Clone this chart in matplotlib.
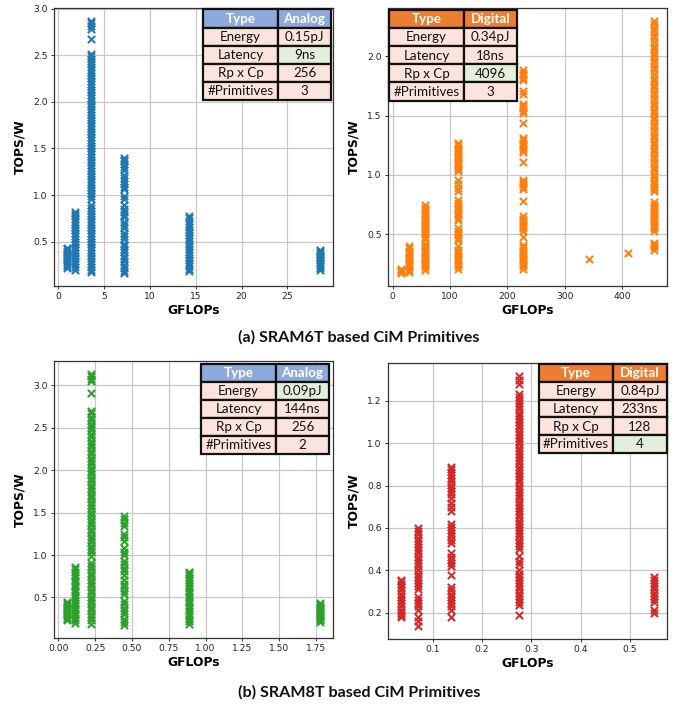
import matplotlib
matplotlib.use("Agg")
import matplotlib.pyplot as plt
from matplotlib.patches import Rectangle

# ---------------- data ----------------
# (a) SRAM6T Analog
x_6t_analog = [0.894, 1.79, 3.58, 7.15, 14.3, 28.6]
y_6t_analog = [
    [0.22, 0.24, 0.26, 0.28, 0.30, 0.32, 0.34, 0.36, 0.38, 0.40, 0.42, 0.43],
    [0.20, 0.23, 0.26, 0.29, 0.32, 0.35, 0.38, 0.41, 0.44, 0.47, 0.50, 0.53, 0.56, 0.59,
     0.62, 0.65, 0.68, 0.71, 0.74, 0.77, 0.80, 0.82],
    [0.17, 0.20, 0.23, 0.26, 0.29, 0.32, 0.35, 0.38, 0.41, 0.44, 0.47, 0.50, 0.53, 0.56,
     0.59, 0.62, 0.65, 0.68, 0.71, 0.74, 0.77, 0.80, 0.83, 0.86, 0.89, 0.96, 0.99, 1.02,
     1.05, 1.08, 1.11, 1.14, 1.17, 1.20, 1.23, 1.26, 1.29, 1.32, 1.35, 1.38, 1.41, 1.44,
     1.47, 1.50, 1.53, 1.56, 1.59, 1.62, 1.65, 1.68, 1.71, 1.74, 1.77, 1.80, 1.83, 1.86,
     1.89, 1.92, 1.95, 1.98, 2.01, 2.04, 2.07, 2.10, 2.13, 2.16, 2.19, 2.22, 2.25, 2.28,
     2.31, 2.34, 2.37, 2.40, 2.43, 2.46, 2.49, 2.51, 2.67, 2.78, 2.81, 2.84, 2.87],
    [0.16, 0.19, 0.22, 0.25, 0.29, 0.32, 0.35, 0.39, 0.42, 0.45, 0.48, 0.53, 0.56, 0.59,
     0.65, 0.68, 0.71, 0.76, 0.79, 0.82, 0.85, 0.89, 0.96, 0.99, 1.06, 1.09, 1.12, 1.15,
     1.18, 1.21, 1.27, 1.30, 1.33, 1.36, 1.38, 1.40],
    [0.18, 0.21, 0.24, 0.27, 0.30, 0.33, 0.36, 0.39, 0.42, 0.45, 0.48, 0.51, 0.54, 0.57,
     0.60, 0.63, 0.66, 0.69, 0.72, 0.75, 0.78],
    [0.20, 0.22, 0.24, 0.26, 0.28, 0.30, 0.32, 0.34, 0.36, 0.38, 0.40, 0.41],
]

# (a) SRAM6T Digital
x_6t_digital = [14.25, 28.5, 57, 114, 228, 342, 410, 456]
y_6t_digital = [
    [0.17, 0.18, 0.19, 0.20, 0.21],
    [0.18, 0.20, 0.22, 0.24, 0.26, 0.28, 0.30, 0.32, 0.34, 0.36, 0.38, 0.40],
    [0.20, 0.22, 0.24, 0.26, 0.28, 0.30, 0.32, 0.34, 0.36, 0.38, 0.40, 0.42, 0.46, 0.48,
     0.50, 0.52, 0.54, 0.56, 0.58, 0.60, 0.62, 0.64, 0.66, 0.68, 0.70, 0.72, 0.75],
    [0.21, 0.23, 0.25, 0.27, 0.29, 0.31, 0.33, 0.35, 0.37, 0.40, 0.45, 0.47, 0.49, 0.51,
     0.53, 0.55, 0.62, 0.64, 0.66, 0.68, 0.70, 0.72, 0.74, 0.76, 0.79, 0.86, 0.89, 0.92,
     0.96, 1.03, 1.05, 1.07, 1.09, 1.11, 1.13, 1.15, 1.17, 1.19, 1.21, 1.23, 1.25, 1.27],
    [0.21, 0.23, 0.25, 0.27, 0.29, 0.31, 0.33, 0.35, 0.37, 0.39, 0.41, 0.48, 0.53, 0.55,
     0.57, 0.59, 0.61, 0.63, 0.65, 0.78, 0.88, 0.90, 0.92, 0.94, 0.96, 1.11, 1.19, 1.21,
     1.23, 1.25, 1.27, 1.29, 1.31, 1.44, 1.52, 1.54, 1.56, 1.58, 1.60, 1.68, 1.71, 1.80,
     1.82, 1.84, 1.86, 1.88],
    [0.29],
    [0.34],
    [0.37, 0.39, 0.41, 0.43, 0.53, 0.55, 0.57, 0.59, 0.61, 0.63, 0.65, 0.67, 0.69, 0.71,
     0.73, 0.75, 0.77, 0.86, 0.88, 0.90, 0.92, 0.95, 0.98, 1.01, 1.04, 1.07, 1.10, 1.13,
     1.16, 1.19, 1.22, 1.25, 1.28, 1.31, 1.34, 1.37, 1.40, 1.43, 1.46, 1.49, 1.52, 1.55,
     1.58, 1.61, 1.64, 1.67, 1.70, 1.73, 1.76, 1.79, 1.82, 1.85, 1.88, 1.91, 1.94, 1.97,
     2.00, 2.03, 2.06, 2.09, 2.12, 2.15, 2.18, 2.21, 2.24, 2.27, 2.30],
]

# (b) SRAM8T Analog
x_8t_analog = [0.056, 0.111, 0.222, 0.445, 0.89, 1.78]
y_8t_analog = [
    [0.23, 0.25, 0.27, 0.29, 0.31, 0.33, 0.35, 0.37, 0.39, 0.41, 0.43, 0.45],
    [0.20, 0.23, 0.26, 0.29, 0.32, 0.35, 0.38, 0.41, 0.44, 0.47, 0.50, 0.53, 0.56, 0.59,
     0.62, 0.65, 0.68, 0.71, 0.74, 0.77, 0.80, 0.83, 0.86],
    [0.19, 0.23, 0.27, 0.31, 0.35, 0.39, 0.43, 0.47, 0.51, 0.55, 0.59, 0.63, 0.67, 0.71,
     0.75, 0.79, 0.83, 0.87, 0.91, 0.99, 1.03, 1.07, 1.11, 1.15, 1.19, 1.23, 1.27, 1.31,
     1.35, 1.39, 1.43, 1.47, 1.51, 1.55, 1.59, 1.63, 1.67, 1.71, 1.75, 1.79, 1.83, 1.87,
     1.91, 1.95, 1.99, 2.03, 2.07, 2.11, 2.15, 2.19, 2.23, 2.27, 2.31, 2.35, 2.39, 2.43,
     2.47, 2.51, 2.55, 2.59, 2.63, 2.67, 2.70, 2.91, 3.05, 3.08, 3.11, 3.14],
    [0.17, 0.21, 0.24, 0.30, 0.34, 0.38, 0.42, 0.46, 0.54, 0.58, 0.62, 0.66, 0.70, 0.77,
     0.81, 0.85, 0.89, 0.93, 1.00, 1.04, 1.08, 1.17, 1.21, 1.25, 1.34, 1.38, 1.42, 1.46],
    [0.19, 0.22, 0.25, 0.28, 0.31, 0.34, 0.37, 0.40, 0.43, 0.46, 0.49, 0.52, 0.55, 0.58,
     0.61, 0.64, 0.67, 0.70, 0.73, 0.76, 0.79, 0.80],
    [0.21, 0.23, 0.25, 0.27, 0.29, 0.31, 0.33, 0.35, 0.37, 0.39, 0.41, 0.43],
]

# (b) SRAM8T Digital
x_8t_digital = [0.0344, 0.0688, 0.1375, 0.275, 0.55]
y_8t_digital = [
    [0.18, 0.19, 0.20, 0.215, 0.23, 0.245, 0.26, 0.275, 0.29, 0.305, 0.32, 0.335, 0.35, 0.355],
    [0.135, 0.16, 0.18, 0.215, 0.23, 0.245, 0.26, 0.275, 0.31, 0.325, 0.34, 0.355, 0.37,
     0.385, 0.40, 0.42, 0.435, 0.45, 0.465, 0.48, 0.495, 0.51, 0.525, 0.54, 0.555, 0.57,
     0.585, 0.60],
    [0.18, 0.215, 0.23, 0.245, 0.26, 0.275, 0.29, 0.305, 0.32, 0.38, 0.42, 0.435, 0.45,
     0.465, 0.48, 0.53, 0.545, 0.56, 0.575, 0.59, 0.605, 0.62, 0.68, 0.70, 0.72, 0.74,
     0.76, 0.775, 0.79, 0.805, 0.82, 0.835, 0.85, 0.865, 0.88, 0.89],
    [0.19, 0.235, 0.25, 0.265, 0.28, 0.295, 0.31, 0.325, 0.34, 0.355, 0.37, 0.385, 0.40,
     0.43, 0.445, 0.47, 0.50, 0.515, 0.53, 0.545, 0.56, 0.575, 0.59, 0.605, 0.62, 0.635,
     0.65, 0.665, 0.68, 0.695, 0.71, 0.725, 0.74, 0.755, 0.77, 0.785, 0.80, 0.815, 0.83,
     0.845, 0.86, 0.875, 0.89, 0.905, 0.92, 0.935, 0.95, 0.965, 0.98, 0.995, 1.01, 1.025,
     1.04, 1.055, 1.07, 1.085, 1.10, 1.115, 1.13, 1.145, 1.16, 1.175, 1.19, 1.205, 1.22,
     1.235, 1.28, 1.30, 1.32],
    [0.20, 0.215, 0.25, 0.265, 0.28, 0.295, 0.31, 0.325, 0.34, 0.355, 0.37],
]

# tables
table_rows = ["Type", "Energy", "Latency", "Rp x Cp", "#Primitives"]
table_6t_analog = ["Analog", "0.15pJ", "9ns", "256", "3"]
table_6t_digital = ["Digital", "0.34pJ", "18ns", "4096", "3"]
table_8t_analog = ["Analog", "0.09pJ", "144ns", "256", "2"]
table_8t_digital = ["Digital", "0.84pJ", "233ns", "128", "4"]
highlight_6t_analog = "Latency"
highlight_6t_digital = "Rp x Cp"
highlight_8t_analog = "Energy"
highlight_8t_digital = "#Primitives"

captions = ["(a) SRAM6T based CiM Primitives", "(b) SRAM8T based CiM Primitives"]

# ---------------- figure ----------------
W, H = 683, 704
fig = plt.figure(figsize=(W / 100, H / 100), dpi=100)


def px_axes(l, r, t, b):
    return fig.add_axes([l / W, 1 - b / H, (r - l) / W, (b - t) / H])


def fx(x):
    return x / W


def fy(y):
    return 1 - y / H


C_ANALOG_HDR = "#8EA9DB"
C_DIGITAL_HDR = "#ED7D31"
C_CELL = "#FCE4DC"
C_GREEN = "#E2EFDA"
TABLE_FONT = "Lato"


def draw_table(l, r, t, b, split, values, hdr_color, highlight):
    n = len(table_rows)
    rh = (b - t) / n
    for i, (name, val) in enumerate(zip(table_rows, values)):
        top = t + i * rh
        for (cl, cr, txt, is_val) in [(l, split, name, False), (split, r, val, True)]:
            if i == 0:
                fc = hdr_color
            elif is_val and name == highlight:
                fc = C_GREEN
            else:
                fc = C_CELL
            rect = Rectangle((fx(cl), fy(top + rh)), (cr - cl) / W, rh / H,
                             transform=fig.transFigure, facecolor=fc,
                             edgecolor="#111111", linewidth=1.6, zorder=10)
            fig.add_artist(rect)
            fig.text(fx((cl + cr) / 2), fy(top + rh / 2 + 0.3), txt,
                     ha="center", va="center", fontsize=9.6,
                     family=TABLE_FONT,
                     fontweight="bold" if i == 0 else "normal",
                     color="white" if i == 0 else "#111111", zorder=11)


def style_axes(ax):
    ax.set_axisbelow(True)
    ax.grid(True, color="#c8c8c8", linewidth=0.9)
    ax.tick_params(labelsize=6.6, length=2.5, width=0.7, colors="#333333",
                   labelcolor="#222222", pad=2)
    for s in ax.spines.values():
        s.set_color("#333333")
        s.set_linewidth(0.9)
    ax.set_xlabel("GFLOPs", fontsize=8.8, fontweight="bold", labelpad=2)
    ax.set_ylabel("TOPS/W", fontsize=8.8, fontweight="bold", labelpad=5)


def scatter_columns(ax, xs, ys, color):
    for xv, col in zip(xs, ys):
        ax.scatter([xv] * len(col), col, marker="x", s=27, linewidths=1.45, color=color)


# (a) left
ax1 = px_axes(54, 333, 8, 286)
scatter_columns(ax1, x_6t_analog, y_6t_analog, "#1f77b4")
ax1.set_xticks([0, 5, 10, 15, 20, 25])
ax1.set_yticks([0.5, 1.0, 1.5, 2.0, 2.5, 3.0])
style_axes(ax1)

# (a) right
ax2 = px_axes(388, 667, 8, 286)
scatter_columns(ax2, x_6t_digital, y_6t_digital, "#ff7f0e")
ax2.set_xticks([0, 100, 200, 300, 400])
ax2.set_yticks([0.5, 1.0, 1.5, 2.0])
style_axes(ax2)

# (b) left
ax3 = px_axes(54, 333, 361, 638)
scatter_columns(ax3, x_8t_analog, y_8t_analog, "#2ca02c")
ax3.set_xticks([0.0, 0.25, 0.5, 0.75, 1.0, 1.25, 1.5, 1.75])
ax3.set_xticklabels(["0.00", "0.25", "0.50", "0.75", "1.00", "1.25", "1.50", "1.75"])
ax3.set_yticks([0.5, 1.0, 1.5, 2.0, 2.5, 3.0])
style_axes(ax3)

# (b) right
ax4 = px_axes(388, 667, 363, 639)
scatter_columns(ax4, x_8t_digital, y_8t_digital, "#d62728")
ax4.set_xticks([0.1, 0.2, 0.3, 0.4, 0.5])
ax4.set_yticks([0.2, 0.4, 0.6, 0.8, 1.0, 1.2])
style_axes(ax4)

# tables
draw_table(203, 331, 9.5, 100, 278, table_6t_analog, C_ANALOG_HDR, highlight_6t_analog)
draw_table(389, 517, 10, 100.5, 464, table_6t_digital, C_DIGITAL_HDR, highlight_6t_digital)
draw_table(201, 329, 363.5, 454, 276, table_8t_analog, C_ANALOG_HDR, highlight_8t_analog)
draw_table(538.5, 667, 364, 453, 613, table_8t_digital, C_DIGITAL_HDR, highlight_8t_digital)

# captions
fig.text(fx(359), fy(337), captions[0], ha="center", va="center", fontsize=11.6,
         fontweight="bold", family="Lato", color="#111111")
fig.text(fx(359), fy(692), captions[1], ha="center", va="center", fontsize=11.6,
         fontweight="bold", family="Lato", color="#111111")

fig.savefig("out.png", dpi=100)
